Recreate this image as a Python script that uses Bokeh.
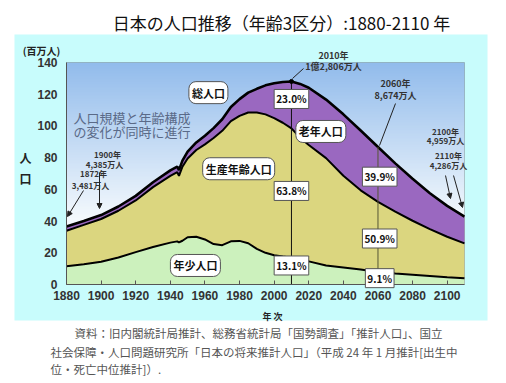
import numpy as np
from bokeh.plotting import figure
from bokeh.models import (ColumnDataSource, FixedTicker, Label, BoxAnnotation,
                          Arrow, NormalHead, Range1d)
from bokeh.embed import file_html
from bokeh.resources import INLINE

# ---------------- data (millions of people) ----------------
years = [1880, 1890, 1900, 1910, 1920, 1930, 1940, 1944, 1945, 1947, 1950, 1955,
         1960, 1965, 1970, 1975, 1980, 1985, 1990, 1995, 2000, 2005, 2010, 2015,
         2020, 2030, 2040, 2050, 2060, 2070, 2080, 2090, 2100, 2110]
children = [11.5, 12.7, 14.4, 17.0, 20.4, 23.6, 26.4, 27.2, 26.5, 27.6, 29.8, 30.1,
            28.4, 25.5, 24.8, 27.2, 27.5, 26.0, 22.5, 20.0, 18.5, 17.6, 16.8, 15.8,
            14.6, 12.0, 10.7, 9.4, 7.9, 6.9, 6.2, 5.4, 4.6, 3.9]
working = [22.4, 24.9, 26.9, 29.5, 32.6, 37.8, 42.1, 43.6, 42.0, 46.7, 49.7, 54.7,
           60.0, 66.9, 72.1, 75.8, 78.8, 82.5, 86.0, 87.3, 86.4, 84.4, 81.7, 76.8,
           73.4, 67.7, 57.9, 50.0, 44.2, 39.0, 34.0, 29.5, 25.5, 22.0]
elderly = [2.7, 2.4, 2.5, 2.7, 2.9, 3.1, 3.5, 3.6, 3.6, 3.8, 4.3, 4.8,
           5.4, 6.2, 7.3, 8.9, 10.6, 12.5, 14.9, 18.3, 22.0, 25.7, 29.56, 33.9,
           36.1, 36.9, 38.7, 37.7, 34.64, 30.5, 26.5, 22.6, 19.5, 16.96]

marker_years = [2010, 2060]
marker_totals = [128.06, 86.74]
shares_2010 = ["23.0%", "63.8%", "13.1%"]
shares_2060 = ["39.9%", "50.9%", "9.1%"]

x_ticks = list(range(1880, 2101, 20))
y_ticks = list(range(0, 141, 20))

JP = "Noto Sans CJK JP"
NUM = "Liberation Sans"
GREEN, YELLOW, PURPLE = "#ccf1bd", "#dbd67f", "#9a68c0"

# ---------------- page geometry ----------------
W, H = 506, 383
X0, X1, Y0, Y1 = 1880, 2110, 0, 140          # data extent of the chart panel
PL, PR, PT, PB = 66, 464, 62, 284              # its pixel box on the page
sx = (PR - PL) / (X1 - X0)
sy = (PB - PT) / (Y1 - Y0)
xs_ = X0 - PL / sx
xe_ = xs_ + W / sx
ye_ = Y1 + PT / sy
ys_ = ye_ - H / sy


def X(px):
    return xs_ + px / sx


def Y(py):
    return ye_ - py / sy


c1 = np.array(children)
c2 = c1 + np.array(working)
c3 = c2 + np.array(elderly)
src = ColumnDataSource(dict(year=years, children=children, working=working,
                            elderly=elderly, c1=c1, c2=c2, c3=c3))

p = figure(width=W, height=H, x_range=Range1d(xs_, xe_), y_range=Range1d(ys_, ye_),
           output_backend="svg", toolbar_location=None,
           min_border_left=0, min_border_right=0, min_border_top=0, min_border_bottom=0)
p.title.visible = False
p.border_fill_color = "white"
p.background_fill_color = "white"
p.outline_line_color = None
p.grid.visible = False

# cyan panel behind chart
p.add_layout(BoxAnnotation(left=X(14), right=X(487), top=Y(34), bottom=Y(320),
                           fill_color="#c8fcfc", fill_alpha=1.0, line_color=None,
                           level="image"))

# gradient background of the plot area
n = 140
img = np.zeros((n, 1), dtype=np.uint32)
view = img.view(dtype=np.uint8).reshape((n, 1, 4))
top = np.array([146, 188, 236])
low = np.array([244, 249, 253])
for i in range(n):
    t = i / (n - 1)
    f = max(0.0, (t - 0.3) / 0.7)
    col = low + (top - low) * f
    view[i, 0, :3] = col.astype(np.uint8)
    view[i, 0, 3] = 255
p.image_rgba(image=[img], x=X0, y=Y0, dw=X1 - X0, dh=Y1 - Y0, level="underlay")

# stacked areas
p.varea_stack(stackers=["children", "working", "elderly"], x="year",
              color=[GREEN, YELLOW, PURPLE], source=src)
p.line("year", "c1", source=src, color="black", line_width=2)
p.line("year", "c2", source=src, color="black", line_width=2)
p.line("year", "c3", source=src, color="black", line_width=2.6)

# vertical reference lines
p.segment(x0=marker_years, y0=[0, 0], x1=marker_years, y1=marker_totals,
          color=["#111111", "#555533"], line_width=1)
p.scatter(x=[marker_years[0]], y=[marker_totals[0]], size=4, color="black")

# frame of the chart panel
p.add_layout(BoxAnnotation(left=X0, right=X1, bottom=Y0, top=Y1, fill_alpha=0,
                           line_color="#555555", line_width=1))

# axes (drawn at the panel edges)
p.xaxis.fixed_location = Y0
p.yaxis.fixed_location = X0
p.xaxis.bounds = (X0, X1)
p.yaxis.bounds = (Y0, Y1)
for ax, ticks in ((p.xaxis, x_ticks), (p.yaxis, y_ticks)):
    ax.ticker = FixedTicker(ticks=ticks)
    ax.minor_tick_line_color = None
    ax.axis_line_color = "#555555"
    ax.major_tick_line_color = "#555555"
    ax.major_label_text_font = NUM
    ax.major_label_text_font_style = "bold"
    ax.major_label_text_font_size = "12px"
    ax.major_label_text_color = "#333333"
p.xaxis.major_tick_in = 4
p.xaxis.major_tick_out = 0
p.yaxis.major_tick_in = 0
p.yaxis.major_tick_out = 0
p.xaxis.major_label_standoff = 6
p.yaxis.major_label_standoff = 9


def lab(x, y, text, size="9px", bold=True, color="#333333", align="center", **kw):
    p.add_layout(Label(x=x, y=y, text=text, text_font=JP, text_font_size=size,
                       text_font_style="bold" if bold else "normal",
                       text_color=color, text_align=align, text_baseline="middle", **kw))


def boxlab(x, y, text, size="10px", radius=0, pad=2):
    p.add_layout(Label(x=x, y=y, text=text, text_font=JP, text_font_size=size,
                       text_font_style="bold", text_color="#111111",
                       text_align="center", text_baseline="middle",
                       background_fill_color="white", border_line_color="#555555",
                       border_line_width=1, padding=pad, border_radius=radius))


# category labels
boxlab(1962, 121, "総人口", "11px", 7, 3)
boxlab(2027, 96.5, "老年人口", "11px", 7, 3)
boxlab(1979.5, 73, "生産年齢人口", "11px", 7, 3)
boxlab(1954.5, 12, "年少人口", "11px", 7, 3)

# share labels
for yv, t in zip([117, 59, 12], shares_2010):
    boxlab(2010, yv, t, "10px")
for yv, t in zip([68, 29, 4], shares_2060):
    boxlab(2061, yv, t, "10px")

# narrative text
lab(X(73), Y(117), "人口規模と年齢構成", "13px", False, "#5a6a88", "left")
lab(X(73), Y(131), "の変化が同時に進行", "13px", False, "#5a6a88", "left")

# callouts
lab(X(107), Y(154), "1900年", "8px")
lab(X(104), Y(164), "4,385万人", "8px")
lab(X(93), Y(173), "1872年", "8px")
lab(X(90), Y(185), "3,481万人", "8px")
lab(X(333), Y(55), "2010年", "9px")
lab(X(333), Y(66), "1億2,806万人", "9px")
lab(X(395), Y(83), "2060年", "9px")
lab(X(395), Y(95), "8,674万人", "9px")
lab(X(445), Y(131), "2100年", "8px")
lab(X(445), Y(140), "4,959万人", "8px")
lab(X(448), Y(155), "2110年", "8px")
lab(X(448), Y(165), "4,286万人", "8px")

head = lambda: NormalHead(size=5, fill_color="#222222", line_color="#222222")
for (xa, ya), (xb, yb), h in [((83, 190), (67, 216), True),
                              ((99, 172), (99, 208), True),
                              ((303, 68), (292, 78), False),
                              ((395, 103), (379, 145), False),
                              ((445, 175), (450, 198), True),
                              ((453, 175), (462, 207), True)]:
    p.add_layout(Arrow(end=head() if h else None, x_start=X(xa), y_start=Y(ya),
                       x_end=X(xb), y_end=Y(yb), line_color="#222222", line_width=1))

# titles and axis captions
lab(X(281), Y(22), "日本の人口推移（年齢3区分）:1880-2110 年", "17px", False, "#111111")
lab(X(41), Y(50), "(百万人)", "10px", True, "#222222")
lab(X(25), Y(157), "人", "12px", True, "#222222")
lab(X(25), Y(178), "口", "12px", True, "#222222")
lab(X(272), Y(316), "年 次", "9px", True, "#222222")

lab(X(74), Y(332), "資料：旧内閣統計局推計、総務省統計局「国勢調査」「推計人口」、国立",
    "11.5px", False, "#555555", "left")
lab(X(50), Y(351), "社会保障・人口問題研究所「日本の将来推計人口」（平成 24 年 1 月推計[出生中",
    "11.5px", False, "#555555", "left")
lab(X(50), Y(368), "位・死亡中位推計]）.", "11.5px", False, "#555555", "left")

open("out.html", "w").write(file_html(p, INLINE))
